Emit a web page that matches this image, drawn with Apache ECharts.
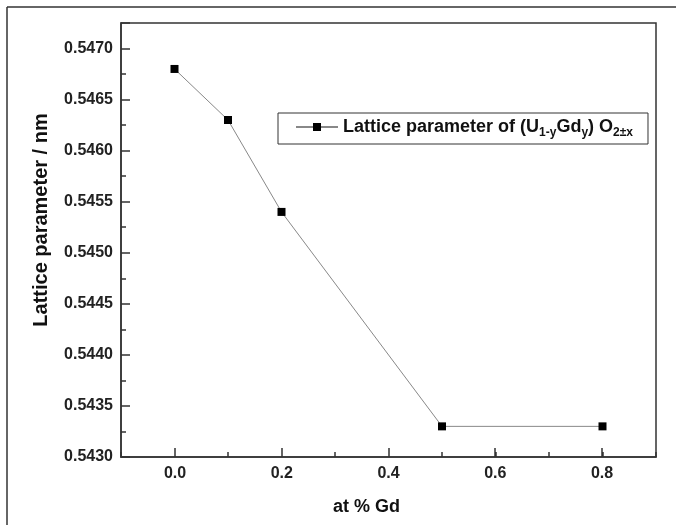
<!DOCTYPE html>
<html><head><meta charset="utf-8">
<script src="https://cdn.jsdelivr.net/npm/echarts@6/dist/echarts.min.js"></script>
<style>html,body{margin:0;padding:0;background:#fff}#c{width:676px;height:525px}</style>
</head><body><div id="c"></div>
<script>
const gdFraction = [0.0, 0.1, 0.2, 0.5, 0.8];
const latticeParam = [0.5468, 0.5463, 0.5454, 0.5433, 0.5433];
const seriesName = 'Lattice parameter of (U1-yGdy) O2±x';
const xTitle = 'at % Gd';
const yTitle = 'Lattice parameter / nm';

const FONT = '"Liberation Sans", Arial, sans-serif';
const AX = '#333';
const chart = echarts.init(document.getElementById('c'), null, {renderer: 'canvas'});

const gridTop = 23, gridBottomY = 457, gridLeft = 121, gridRightX = 656;
const x0px = 175, x08px = 602;

chart.setOption({
  animation: false,
  backgroundColor: '#fff',
  graphic: [
    {type: 'line', shape: {x1: 7, y1: 7, x2: 676, y2: 7}, style: {stroke: '#333', lineWidth: 1.5}},
    {type: 'line', shape: {x1: 7, y1: 7, x2: 7, y2: 525}, style: {stroke: '#333', lineWidth: 1.5}}
  ],
  grid: [
    {left: gridLeft, top: gridTop, width: gridRightX - gridLeft, height: gridBottomY - gridTop,
     outerBoundsMode: 'none', containLabel: false,
     show: true, borderColor: AX, borderWidth: 1.5, backgroundColor: 'transparent'},
    {left: x0px, top: gridTop, width: x08px - x0px, height: gridBottomY - gridTop,
     outerBoundsMode: 'none', containLabel: false, show: false}
  ],
  legend: {
    left: 278, top: 113,
    orient: 'horizontal',
    borderColor: AX, borderWidth: 1,
    padding: [5, 15, 5, 17],
    itemWidth: 42, itemHeight: 10, itemGap: 6,
    data: [seriesName],
    formatter: function () {
      return '{a|Lattice parameter of (U}{s|1-y}{a|Gd}{s|y}{a|) O}{s|2±x}';
    },
    textStyle: {
      color: '#111',
      rich: {
        a: {fontSize: 18, fontWeight: 'bold', fontFamily: FONT, color: '#111', lineHeight: 24, verticalAlign: 'middle'},
        s: {fontSize: 12, fontWeight: 'bold', fontFamily: FONT, color: '#111', lineHeight: 10, verticalAlign: 'bottom'}
      }
    }
  },
  xAxis: [
    {
      type: 'value', gridIndex: 0, position: 'bottom', min: -0.1, max: 0.9, interval: 0.1,
      axisLine: {show: true, onZero: false, lineStyle: {color: AX, width: 1.5}},
      axisTick: {show: true, inside: true, length: 5, lineStyle: {color: AX, width: 1.5}},
      axisLabel: {show: false},
      splitLine: {show: false},
      name: xTitle, nameLocation: 'middle', nameGap: 41,
      nameTextStyle: {fontSize: 18, fontWeight: 'bold', fontFamily: FONT, color: '#111', padding: [0, 44, 0, 0]}
    },
    {
      type: 'value', gridIndex: 1, position: 'bottom', min: 0, max: 0.8, interval: 0.2,
      axisLine: {show: false, onZero: false},
      axisTick: {show: true, inside: true, length: 9, lineStyle: {color: AX, width: 1.5}},
      axisLabel: {show: true, margin: 9, fontSize: 16, fontWeight: 'bold', fontFamily: FONT, color: '#222',
        formatter: function (v) { return v.toFixed(1); }},
      splitLine: {show: false}
    }
  ],
  yAxis: [
    {
      type: 'value', gridIndex: 0, position: 'left', min: 0.543, max: 0.54725, interval: 0.00025,
      axisLine: {show: true, onZero: false, lineStyle: {color: AX, width: 1.5}},
      axisTick: {show: true, inside: true, length: 5, lineStyle: {color: AX, width: 1.5}},
      axisLabel: {show: false},
      splitLine: {show: false}
    },
    {
      type: 'value', gridIndex: 0, position: 'left', offset: 0, min: 0.543, max: 0.54725, interval: 0.0005,
      axisLine: {show: false, onZero: false},
      axisTick: {show: true, inside: true, length: 9, lineStyle: {color: AX, width: 1.5}},
      axisLabel: {show: true, margin: 8, fontSize: 16, fontWeight: 'bold', fontFamily: FONT, color: '#222',
        formatter: function (v) {
          const k = v * 2000;
          if (Math.abs(k - Math.round(k)) > 1e-6 || v > 0.54701) return '';
          return v.toFixed(4);
        }},
      splitLine: {show: false},
      name: yTitle, nameLocation: 'middle', nameGap: 70, nameRotate: 90,
      nameTextStyle: {fontSize: 20, fontWeight: 'bold', fontFamily: FONT, color: '#111', padding: [0, 0, 0, 40]}
    },
    {type: 'value', gridIndex: 1, min: 0, max: 1, show: false, axisLine: {onZero: false}}
  ],
  series: [{
    name: seriesName,
    type: 'line',
    xAxisIndex: 0, yAxisIndex: 0,
    data: gdFraction.map((x, i) => [x, latticeParam[i]]),
    symbol: 'rect', symbolSize: 8,
    itemStyle: {color: '#000'},
    lineStyle: {color: '#888', width: 1}
  }]
});
</script></body></html>
